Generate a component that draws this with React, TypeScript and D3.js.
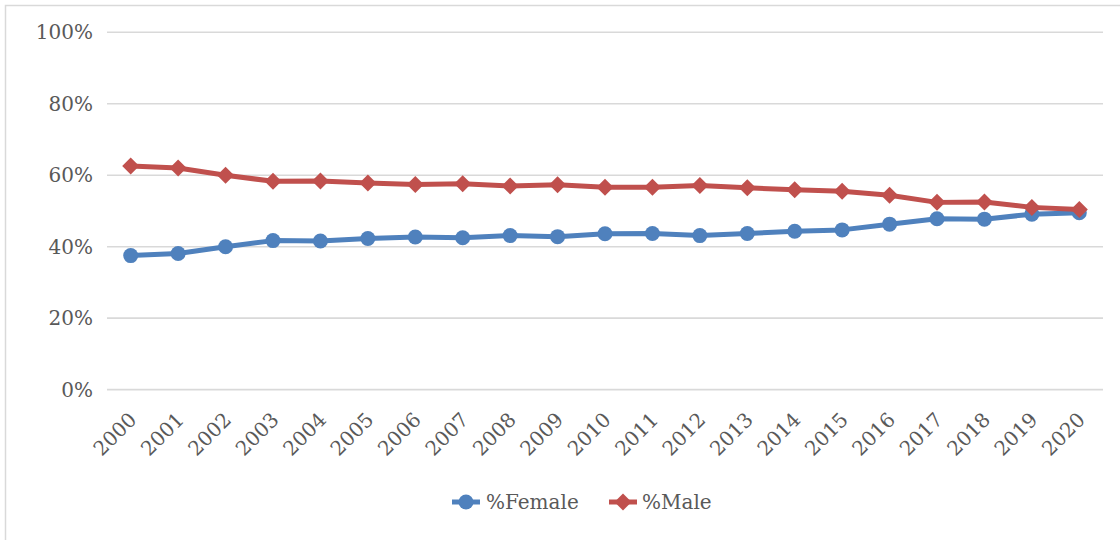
import React from "react";
import * as d3 from "d3";

// Share of female and male, by year (percent)
const years = [
  "2000", "2001", "2002", "2003", "2004", "2005", "2006", "2007", "2008", "2009", "2010",
  "2011", "2012", "2013", "2014", "2015", "2016", "2017", "2018", "2019", "2020",
];
const femaleShare = [
  37.5, 38.1, 40.0, 41.7, 41.6, 42.3, 42.7, 42.5, 43.1, 42.8, 43.6,
  43.7, 43.1, 43.7, 44.3, 44.7, 46.3, 47.8, 47.7, 49.1, 49.5,
];
const maleShare = [
  62.6, 62.0, 60.0, 58.3, 58.4, 57.8, 57.4, 57.6, 57.0, 57.3, 56.6,
  56.6, 57.1, 56.5, 55.9, 55.5, 54.4, 52.4, 52.5, 51.0, 50.4,
];
const yTicks = [0, 20, 40, 60, 80, 100];

const W = 1120;
const H = 540;
const FONT = "'DejaVu Serif', 'Liberation Serif', serif";
const TEXT = "#595959";
const GRID = "#D9D9D9";
const BLUE = "#4F81BD";
const RED = "#C0504D";

const x = d3.scalePoint<string>().domain(years).range([107, 1103]).padding(0.5);
const y = d3.scaleLinear().domain([0, 100]).range([389.6, 32.3]);

const line = d3
  .line<number>()
  .x((_, i) => x(years[i]) as number)
  .y((v) => y(v));

const diamond = (cx: number, cy: number, r: number) =>
  `M${cx},${cy - r}L${cx + r},${cy}L${cx},${cy + r}L${cx - r},${cy}Z`;

export default function App() {
  return (
    <svg
      width={W}
      height={H}
      style={{ position: "absolute", left: 0, top: 0, background: "#fff" }}
      fontFamily={FONT}
    >
      {/* chart frame */}
      <rect x={5.5} y={5.5} width={1200} height={600} fill="#fff" stroke={GRID} strokeWidth={1.5} />

      {/* horizontal gridlines and y labels */}
      {yTicks.map((t) => (
        <g key={t}>
          <line x1={107} x2={1103} y1={y(t)} y2={y(t)} stroke={GRID} strokeWidth={1.6} />
          <text x={93} y={y(t) + 7} textAnchor="end" fontSize={20} fill={TEXT}>
            {t}%
          </text>
        </g>
      ))}

      {/* x labels */}
      {years.map((yr) => {
        const px = (x(yr) as number) + 7;
        const py = 421;
        return (
          <text
            key={yr}
            x={px}
            y={py}
            textAnchor="end"
            fontSize={20}
            fill={TEXT}
            transform={`rotate(-45, ${px}, ${py})`}
          >
            {yr}
          </text>
        );
      })}

      {/* %Female series */}
      <path d={line(femaleShare) ?? ""} fill="none" stroke={BLUE} strokeWidth={5} strokeLinejoin="round" />
      {femaleShare.map((v, i) => (
        <circle key={i} cx={x(years[i]) as number} cy={y(v)} r={7.5} fill={BLUE} />
      ))}

      {/* %Male series */}
      <path d={line(maleShare) ?? ""} fill="none" stroke={RED} strokeWidth={5} strokeLinejoin="round" />
      {maleShare.map((v, i) => (
        <path key={i} d={diamond(x(years[i]) as number, y(v), 8.5)} fill={RED} />
      ))}

      {/* legend */}
      <g>
        <line x1={452} x2={480} y1={502} y2={502} stroke={BLUE} strokeWidth={5} />
        <circle cx={466} cy={502} r={7.5} fill={BLUE} />
        <text x={486} y={509} fontSize={20} fill={TEXT}>%Female</text>
        <line x1={609} x2={637} y1={502} y2={502} stroke={RED} strokeWidth={5} />
        <path d={diamond(623, 502, 8.5)} fill={RED} />
        <text x={642} y={509} fontSize={20} fill={TEXT}>%Male</text>
      </g>
    </svg>
  );
}
